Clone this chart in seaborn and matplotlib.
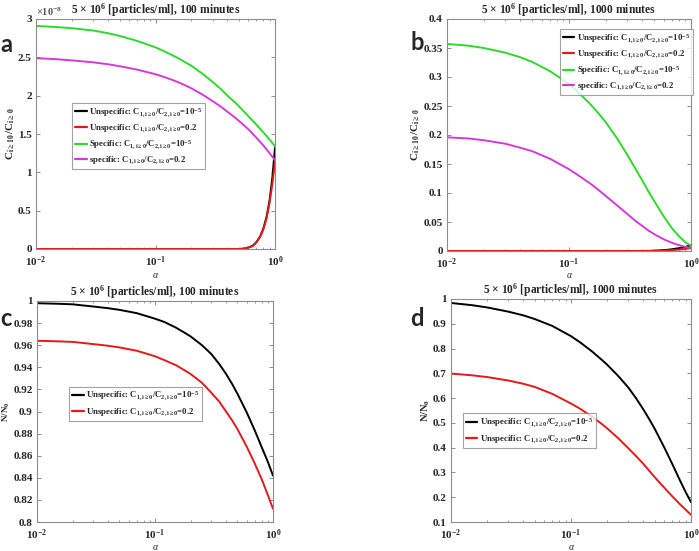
import numpy as np
import matplotlib
matplotlib.use("Agg")
import matplotlib.pyplot as plt
from matplotlib.ticker import FuncFormatter, LogLocator, MultipleLocator
import seaborn as sns

# ---------------- data ----------------
alpha = [0.01, 0.015, 0.02, 0.03, 0.04, 0.05, 0.07, 0.1, 0.12, 0.15, 0.18, 0.2,
         0.25, 0.3, 0.35, 0.4, 0.45, 0.5, 0.6, 0.7, 0.8, 0.9, 1.0]
alpha_rise = [0.01, 0.1, 0.3, 0.45, 0.5, 0.55, 0.6, 0.65, 0.7, 0.75, 0.8, 0.85, 0.9, 0.95, 1.0]

# panel a (units of 1e-8)
a_unspec_1e5 = [0, 0, 0, 0, 0.0, 0.005, 0.02, 0.04, 0.09, 0.16, 0.27, 0.42, 0.63, 0.93, 1.32]
a_unspec_02 = [0, 0, 0, 0, 0.0, 0.005, 0.02, 0.04, 0.09, 0.16, 0.26, 0.40, 0.60, 0.85, 1.13]
a_spec_1e5 = [2.91, 2.895, 2.88, 2.85, 2.815, 2.78, 2.715, 2.63, 2.575, 2.50, 2.43, 2.39,
              2.28, 2.18, 2.09, 2.00, 1.93, 1.86, 1.73, 1.62, 1.52, 1.43, 1.34]
a_spec_02 = [2.49, 2.475, 2.46, 2.435, 2.41, 2.385, 2.34, 2.28, 2.24, 2.185, 2.13, 2.095,
             2.01, 1.93, 1.86, 1.79, 1.73, 1.67, 1.56, 1.45, 1.35, 1.25, 1.16]

# panel b
b_unspec_1e5 = [0, 0, 0, 0.0002, 0.0005, 0.001, 0.0015, 0.0022, 0.003, 0.004, 0.005, 0.006, 0.007, 0.0085, 0.010]
b_unspec_02 = [0, 0, 0, 0, 0.0002, 0.0004, 0.0007, 0.001, 0.0015, 0.002, 0.0025, 0.003, 0.0035, 0.0042, 0.005]
b_spec_1e5 = [0.357, 0.354, 0.350, 0.342, 0.334, 0.326, 0.310, 0.288, 0.273, 0.253, 0.234, 0.222,
              0.193, 0.166, 0.142, 0.121, 0.102, 0.086, 0.059, 0.039, 0.025, 0.015, 0.009]
b_spec_02 = [0.196, 0.194, 0.191, 0.185, 0.178, 0.172, 0.159, 0.141, 0.130, 0.116, 0.103, 0.095,
             0.078, 0.064, 0.052, 0.043, 0.035, 0.029, 0.020, 0.014, 0.010, 0.007, 0.005]

# panel c
c_unspec_1e5 = [0.998, 0.9975, 0.997, 0.995, 0.9935, 0.992, 0.989, 0.984, 0.981, 0.976, 0.971, 0.968,
                0.960, 0.952, 0.943, 0.934, 0.925, 0.916, 0.899, 0.883, 0.868, 0.855, 0.842]
c_unspec_02 = [0.964, 0.9635, 0.963, 0.961, 0.9595, 0.958, 0.955, 0.950, 0.9465, 0.942, 0.937, 0.934,
               0.926, 0.917, 0.909, 0.900, 0.892, 0.884, 0.868, 0.853, 0.839, 0.825, 0.812]

# panel d
d_unspec_1e5 = [0.984, 0.975, 0.966, 0.949, 0.934, 0.919, 0.891, 0.850, 0.824, 0.788, 0.755, 0.735,
                0.687, 0.643, 0.598, 0.555, 0.514, 0.475, 0.400, 0.333, 0.273, 0.222, 0.180]
d_unspec_02 = [0.699, 0.692, 0.685, 0.671, 0.658, 0.645, 0.617, 0.578, 0.556, 0.525, 0.496, 0.478,
               0.436, 0.398, 0.365, 0.335, 0.306, 0.280, 0.238, 0.203, 0.174, 0.150, 0.129]

ratio = r"C$_{1,i\geq 0}$/C$_{2,i\geq 0}$"
lab_u5 = "Unspecific: " + ratio + r"=10$^{-5}$"
lab_u2 = "Unspecific: " + ratio + "=0.2"
lab_s5 = "Specific: " + ratio + r"=10$^{-5}$"
lab_s2 = "specific: " + ratio + "=0.2"

titles = [r"5 $\times$ 10$^{6}$ [particles/ml], 100 minutes",
          r"5 $\times$ 10$^{6}$ [particles/ml], 1000 minutes",
          r"5 $\times$ 10$^{6}$ [particles/ml], 100 minutes",
          r"5 $\times$ 10$^{6}$ [particles/ml], 1000 minutes"]

# ---------------- style ----------------
sns.set_style("ticks")
plt.rcParams["font.family"] = ["Liberation Serif", "DejaVu Serif"]
plt.rcParams["font.weight"] = "bold"
plt.rcParams["mathtext.fontset"] = "custom"
plt.rcParams["mathtext.rm"] = "Liberation Serif:bold"
plt.rcParams["mathtext.it"] = "Liberation Serif:italic:bold"
plt.rcParams["mathtext.bf"] = "Liberation Serif:bold"
plt.rcParams["mathtext.default"] = "rm"

BLACK = "#000000"
RED = "#e31a1c"
GREEN = "#2fd82f"
MAGENTA = "#d63ad6"
SPINE = "#8c8c8c"

fig = plt.figure(figsize=(6.99, 5.51), dpi=100)
W, H = 699, 551

def add_ax(x0, x1, y0, y1):
    return fig.add_axes([x0 / W, 1 - y1 / H, (x1 - x0) / W, (y1 - y0) / H])

axa = add_ax(36, 275, 19, 249)
axb = add_ax(447, 691, 19, 251)
axc = add_ax(37, 273, 301, 522)
axd = add_ax(451, 691, 299, 522)

LW = 1.4
sns.lineplot(x=alpha_rise, y=a_unspec_1e5, ax=axa, color=BLACK, lw=LW, label=lab_u5)
sns.lineplot(x=alpha_rise, y=a_unspec_02, ax=axa, color=RED, lw=LW, label=lab_u2)
sns.lineplot(x=alpha, y=a_spec_1e5, ax=axa, color=GREEN, lw=LW, label=lab_s5)
sns.lineplot(x=alpha, y=a_spec_02, ax=axa, color=MAGENTA, lw=LW, label=lab_s2)

sns.lineplot(x=alpha_rise, y=b_unspec_1e5, ax=axb, color=BLACK, lw=LW, label=lab_u5)
sns.lineplot(x=alpha_rise, y=b_unspec_02, ax=axb, color=RED, lw=LW, label=lab_u2)
sns.lineplot(x=alpha, y=b_spec_1e5, ax=axb, color=GREEN, lw=LW, label=lab_s5)
sns.lineplot(x=alpha, y=b_spec_02, ax=axb, color=MAGENTA, lw=LW, label=lab_s2)

sns.lineplot(x=alpha, y=c_unspec_1e5, ax=axc, color=BLACK, lw=LW, label=lab_u5)
sns.lineplot(x=alpha, y=c_unspec_02, ax=axc, color=RED, lw=LW, label=lab_u2)

sns.lineplot(x=alpha, y=d_unspec_1e5, ax=axd, color=BLACK, lw=LW, label=lab_u5)
sns.lineplot(x=alpha, y=d_unspec_02, ax=axd, color=RED, lw=LW, label=lab_u2)

ylims = [(0, 3), (0, 0.4), (0.8, 1.0), (0.1, 1.0)]
ysteps = [0.5, 0.05, 0.02, 0.1]
ylabels = [r"C$_{i\geq\,10}$/C$_{i\geq\,0}$", r"C$_{i\geq\,10}$/C$_{i\geq\,0}$", r"N/N$_{0}$", r"N/N$_{0}$"]
ylab_sizes = [8, 8, 6.5, 7.5]
xlab_pads = [1, 0, 0.5, 0.5]
leg_anchor = [((0.151, 0.635), "upper left"), ((1.008, 0.957), "upper right"),
              ((0.136, 0.613), "upper left"), ((0.05, 0.487), "upper left")]

for ax, yl, ys, ttl, ylab, ysz, xpad, (anc, loc) in zip(
        [axa, axb, axc, axd], ylims, ysteps, titles, ylabels, ylab_sizes,
        xlab_pads, leg_anchor):
    ax.set_xscale("log")
    ax.set_xlim(0.01, 1)
    ax.set_ylim(*yl)
    ax.yaxis.set_major_locator(MultipleLocator(ys))
    ax.yaxis.set_major_formatter(FuncFormatter(lambda v, p: "%g" % round(v, 4)))
    ax.xaxis.set_major_locator(LogLocator(base=10, numticks=5))
    ax.xaxis.set_minor_locator(LogLocator(base=10, subs=np.arange(2, 10), numticks=20))
    ax.tick_params(which="both", direction="in", top=True, right=True, color=SPINE,
                   labelsize=8, pad=3)
    ax.tick_params(axis="x", which="both", pad=4)
    ax.tick_params(which="major", length=3, width=0.7)
    ax.tick_params(which="minor", length=1.6, width=0.6)
    for s in ax.spines.values():
        s.set_color(SPINE)
        s.set_linewidth(0.8)
        s.set_visible(True)
    ax.set_title(ttl, fontsize=8.3, fontweight="bold", pad=3)
    ax.set_xlabel("α", fontsize=7, fontstyle="italic", fontweight="normal", labelpad=xpad)
    ax.set_ylabel(ylab, fontsize=ysz, fontweight="bold", labelpad=1)
    leg = ax.legend(loc=loc, bbox_to_anchor=anc, fontsize=6.3, frameon=True, fancybox=False,
                    handlelength=1.3, handletextpad=0.3, borderpad=0.35, labelspacing=0.45,
                    borderaxespad=0)
    leg.get_frame().set_edgecolor(SPINE)
    leg.get_frame().set_linewidth(0.8)
    for ln in leg.get_lines():
        ln.set_linewidth(1.6)

axa.text(0.0, 1.005, r"$\times$10$^{-8}$", transform=axa.transAxes, fontsize=7.5,
         color="#555555", ha="left", va="bottom")

# panel letters
for lbl, (px, py) in zip("abcd", [(6, 44), (417, 42), (6, 319), (417, 319)]):
    fig.text(px / W, 1 - py / H, lbl, fontsize=17, fontweight="bold",
             family="Lato", ha="center", va="center")

fig.savefig("out.png", dpi=100)
